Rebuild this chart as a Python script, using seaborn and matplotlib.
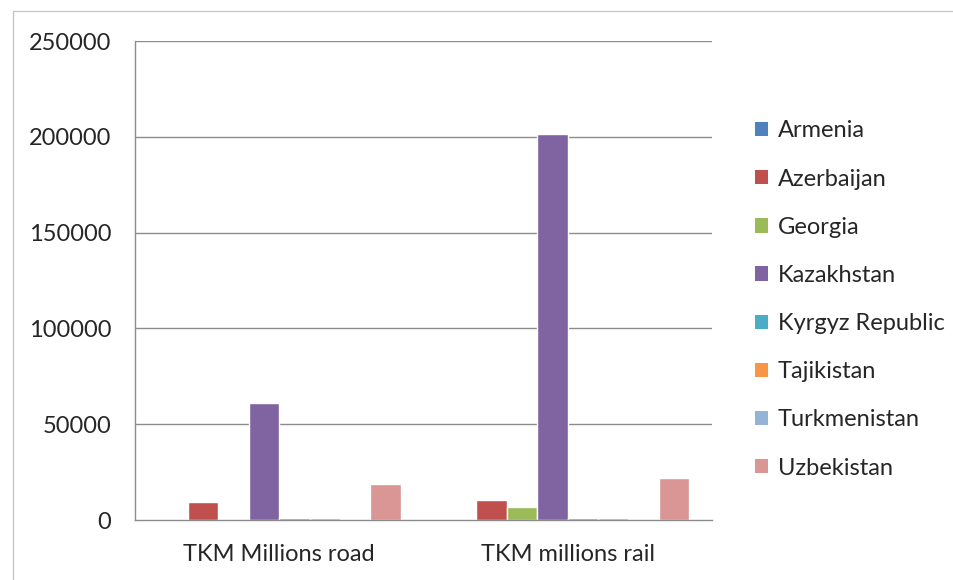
import matplotlib
matplotlib.use("Agg")
import matplotlib.pyplot as plt
from matplotlib.patches import Rectangle, Patch
import seaborn as sns
import pandas as pd

# Freight turnover (tonne-km, millions) by country and mode
categories = ["TKM Millions road", "TKM millions rail"]
countries = ["Armenia", "Azerbaijan", "Georgia", "Kazakhstan",
             "Kyrgyz Republic", "Tajikistan", "Turkmenistan", "Uzbekistan"]
road = [500, 9300, 600, 61000, 900, 1000, 0, 18800]
rail = [700, 10200, 6800, 201500, 800, 900, 0, 22000]
colors = ["#4F81BD", "#C0504D", "#9BBB59", "#8064A2",
          "#4BACC6", "#F79646", "#95B3D7", "#D99694"]
yticks = [0, 50000, 100000, 150000, 200000, 250000]

rows = []
for c, r1, r2 in zip(countries, road, rail):
    rows.append({"mode": categories[0], "country": c, "tkm": r1})
    rows.append({"mode": categories[1], "country": c, "tkm": r2})
df = pd.DataFrame(rows)

sns.set_theme(style="white")
plt.rcParams["font.family"] = ["Lato", "DejaVu Sans"]

FS = 17
TXT = "#262626"

fig = plt.figure(figsize=(9.54, 5.80), dpi=100)
ax = fig.add_axes([0.1415, 0.1034, 0.6045, 0.8256])

sns.barplot(data=df, x="mode", y="tkm", hue="country", order=categories,
            hue_order=countries, palette=colors, width=0.842, gap=0,
            saturation=1, errorbar=None, ax=ax, legend=False)

grid_c = "#8c8c8c"
ax.set_ylim(0, 250000)
ax.set_xlim(-0.5, 1.5)
ax.set_yticks(yticks)
ax.set_yticklabels([str(v) for v in yticks])
for v in yticks[1:]:
    ax.axhline(v, color=grid_c, lw=1, zorder=0)
ax.set_xlabel("")
ax.set_ylabel("")

for s in ["top", "right"]:
    ax.spines[s].set_visible(False)
for s in ["left", "bottom"]:
    ax.spines[s].set_color(grid_c)
    ax.spines[s].set_linewidth(1)

ax.tick_params(axis="y", which="major", direction="out", length=6,
               color=grid_c, labelsize=FS, labelcolor=TXT, pad=11)
ax.tick_params(axis="x", which="major", length=0, labelsize=FS,
               labelcolor=TXT, pad=17)
ax.set_xticks([-0.5, 0.5, 1.5], minor=True)
ax.tick_params(axis="x", which="minor", direction="out", length=6,
               color=grid_c)

handles = [Patch(facecolor=c, edgecolor="none", label=n)
           for c, n in zip(colors, countries)]
leg = fig.legend(handles=handles, loc="center left",
                 bbox_to_anchor=(0.7914, 1 - 299.5 / 580), frameon=False,
                 fontsize=FS, handlelength=0.56, handleheight=0.56,
                 handletextpad=0.4, labelspacing=1.15, borderpad=0,
                 borderaxespad=0)
for t in leg.get_texts():
    t.set_color(TXT)

fig.patches.append(Rectangle((13 / 954, -0.05), 1.0, 1.05 - 11 / 580,
                             transform=fig.transFigure, fill=False,
                             edgecolor="#c8c8c8", lw=1))

fig.savefig("out.png", dpi=100)
